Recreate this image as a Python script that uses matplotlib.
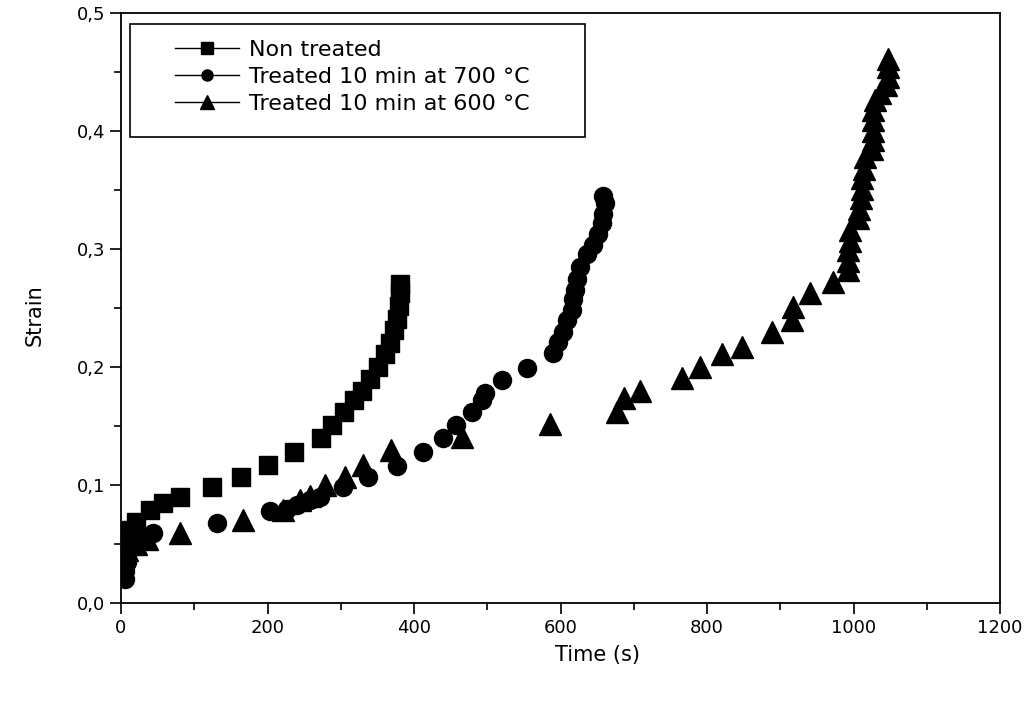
import matplotlib
matplotlib.use("Agg")
import matplotlib.pyplot as plt
import matplotlib.patches as patches
from matplotlib.lines import Line2D
from matplotlib.ticker import MultipleLocator, FuncFormatter

# Non treated (squares)
nt_time = [3, 5, 7, 10, 14, 20, 40, 57, 80, 124, 164, 200, 236, 273, 288, 304,
           318, 329, 340, 351, 360, 367, 373, 377, 380, 381, 381]
nt_strain = [0.045, 0.05, 0.056, 0.059, 0.062, 0.069, 0.079, 0.085, 0.09, 0.098,
             0.107, 0.117, 0.128, 0.14, 0.151, 0.162, 0.172, 0.18, 0.19, 0.2,
             0.211, 0.22, 0.231, 0.241, 0.252, 0.263, 0.27]

# Treated 10 min at 700 C (circles)
t700_time = [5, 6, 8, 10, 12, 20, 44, 131, 203, 227, 240, 258, 272, 303, 337, 377,
             412, 440, 458, 479, 493, 497, 520, 554, 590, 597, 604, 609, 616, 617,
             620, 622, 627, 636, 644, 651, 657, 658, 661, 658]
t700_strain = [0.02, 0.027, 0.035, 0.043, 0.05, 0.055, 0.059, 0.068, 0.078, 0.080,
               0.083, 0.087, 0.090, 0.098, 0.107, 0.116, 0.128, 0.14, 0.151, 0.162,
               0.172, 0.178, 0.189, 0.199, 0.212, 0.221, 0.23, 0.24, 0.248, 0.258,
               0.265, 0.275, 0.285, 0.296, 0.303, 0.313, 0.322, 0.33, 0.339, 0.345]

# Treated 10 min at 600 C (triangles)
t600_time = [8, 20, 35, 81, 167, 221, 244, 258, 278, 306, 331, 368, 465, 586, 677,
             687, 708, 766, 790, 820, 848, 889, 916, 917, 940, 972, 992, 992, 992,
             995, 995, 1006, 1008, 1010, 1012, 1012, 1014, 1016, 1025, 1026, 1026,
             1026, 1026, 1029, 1036, 1045, 1047, 1047, 1047]
t600_strain = [0.045, 0.05, 0.054, 0.059, 0.07, 0.079, 0.087, 0.091, 0.1, 0.107,
               0.117, 0.13, 0.141, 0.152, 0.162, 0.174, 0.18, 0.191, 0.2, 0.211,
               0.217, 0.23, 0.24, 0.251, 0.263, 0.272, 0.282, 0.29, 0.299, 0.307,
               0.316, 0.326, 0.334, 0.343, 0.351, 0.36, 0.368, 0.378, 0.385, 0.392,
               0.4, 0.409, 0.418, 0.426, 0.432, 0.439, 0.446, 0.454, 0.461]

labels = ['Non treated', 'Treated 10 min at 700 °C', 'Treated 10 min at 600 °C']

plt.rcParams['font.family'] = ['DejaVu Sans']

f = plt.figure(figsize=(10.24, 7.01), dpi=100)
ax = f.add_axes([121/1024, 98/701, 879/1024, 590/701])

ax.plot(nt_time, nt_strain, 's', color='k', ms=12.5, ls='none')
ax.plot(t700_time, t700_strain, 'o', color='k', ms=13, ls='none')
ax.plot(t600_time, t600_strain, '^', color='k', ms=16, ls='none')

ax.set_xlim(0, 1200)
ax.set_ylim(0, 0.5)
ax.xaxis.set_major_locator(MultipleLocator(200))
ax.xaxis.set_minor_locator(MultipleLocator(100))
ax.yaxis.set_major_locator(MultipleLocator(0.1))
ax.yaxis.set_minor_locator(MultipleLocator(0.05))
ax.yaxis.set_major_formatter(FuncFormatter(lambda v, p: '{:.1f}'.format(v).replace('.', ',')))
ax.tick_params(which='both', direction='out', top=False, right=False, width=1.2,
               labelsize=13, colors='k')
ax.tick_params(which='major', length=8)
ax.tick_params(which='minor', length=5)
for s in ax.spines.values():
    s.set_linewidth(1.3)

ax.set_xlabel('Time (s)', fontsize=15)
ax.set_ylabel('Strain', fontsize=15)
ax.xaxis.set_label_coords(0.542, -0.072)
ax.yaxis.set_label_coords(-0.087, 0.488)

# legend box drawn as a patch, legend itself without frame
rect = patches.Rectangle((0.0102, 0.790), 0.518, 0.191, transform=ax.transAxes,
                         linewidth=1.2, edgecolor='k', facecolor='white', zorder=4)
ax.add_patch(rect)

handles = [Line2D([], [], color='k', lw=1, marker=m, ms=ms)
           for m, ms in [('s', 8), ('o', 8), ('^', 10)]]
leg = ax.legend(handles, labels, loc='upper left', bbox_to_anchor=(0.0614, 0.955),
                fontsize=16, frameon=False, handlelength=2.9, borderpad=0,
                labelspacing=0.33, borderaxespad=0, handletextpad=0.42)
leg.set_zorder(5)

f.savefig('out.png', dpi=100)
